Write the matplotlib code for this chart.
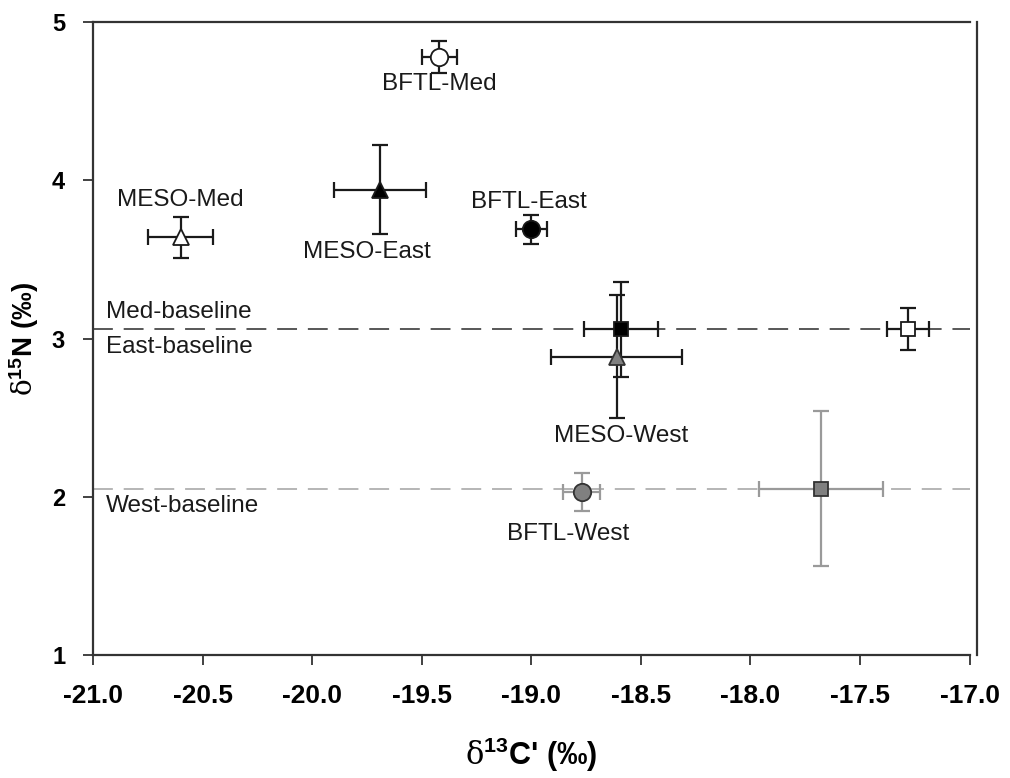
import matplotlib
matplotlib.use("Agg")
import matplotlib.pyplot as plt

plt.rcParams['font.family'] = ['Liberation Sans', 'DejaVu Sans']
plt.rcParams['mathtext.fontset'] = 'custom'
plt.rcParams['mathtext.rm'] = 'DejaVu Serif'
plt.rcParams['mathtext.bf'] = 'Liberation Sans:bold'
plt.rcParams['mathtext.it'] = 'DejaVu Serif:italic'

# ---- data ----
bftl_names = ['BFTL-Med', 'BFTL-East', 'BFTL-West']
bftl_x = [-19.42, -19.00, -18.77]
bftl_y = [4.78, 3.69, 2.03]
bftl_xerr = [0.08, 0.07, 0.085]
bftl_yerr = [0.10, 0.09, 0.12]

meso_names = ['MESO-Med', 'MESO-East', 'MESO-West']
meso_x = [-20.60, -19.69, -18.61]
meso_y = [3.64, 3.94, 2.885]
meso_xerr = [0.15, 0.21, 0.30]
meso_yerr = [0.13, 0.28, 0.39]

base_x = [-17.28, -18.59, -17.68]
base_y = [3.06, 3.06, 2.05]
base_xerr = [0.097, 0.17, 0.283]
base_yerr = [0.134, 0.30, 0.49]

baseline_levels = [3.06, 2.05]
baseline_labels = [('Med-baseline', 'East-baseline'), ('West-baseline',)]

x_ticks = [-21.0, -20.5, -20.0, -19.5, -19.0, -18.5, -18.0, -17.5, -17.0]
y_ticks = [1, 2, 3, 4, 5]

# styles per region (Med, East, West)
fills = ['white', 'black', '#808080']
bftl_ecol = ['#1a1a1a', '#1a1a1a', '#9a9a9a']
meso_ecol = ['#1a1a1a', '#1a1a1a', '#1a1a1a']
base_ecol = ['#1a1a1a', '#1a1a1a', '#9a9a9a']

fig = plt.figure(figsize=(10.10, 7.78), dpi=100)
ax = fig.add_axes([0.092, 0.158, 0.868, 0.8137])

for s in ax.spines.values():
    s.set_color('#333333')
    s.set_linewidth(1.6)
ax.spines['right'].set_position(('outward', 5))

# baselines
ax.axhline(baseline_levels[0], color='#4a4a4a', lw=1.3, ls=(0, (11, 6)), zorder=1)
ax.axhline(baseline_levels[1], color='#b0b0b0', lw=1.3, ls=(0, (11, 6)), zorder=1)

def draw(xs, ys, xe, ye, marker, ecols, ms):
    for i in range(len(xs)):
        ax.errorbar(xs[i], ys[i], xerr=xe[i], yerr=ye[i], fmt='none',
                    ecolor=ecols[i], elinewidth=1.6, capsize=5.5, capthick=1.6, zorder=2)
        ax.plot(xs[i], ys[i], marker=marker, ms=ms, mfc=fills[i],
                mec='#1a1a1a' if i < 2 else '#333333', mew=1.3, ls='none', zorder=3)

draw(base_x, base_y, base_xerr, base_yerr, 's', base_ecol, 10.5)
draw(meso_x, meso_y, meso_xerr, meso_yerr, '^', meso_ecol, 11)
draw(bftl_x, bftl_y, bftl_xerr, bftl_yerr, 'o', bftl_ecol, 12.5)

# point labels
lab_kw = dict(fontsize=17.5, color='#1a1a1a', ha='center', va='center')
ax.text(bftl_x[0], 4.61, bftl_names[0], **lab_kw)
ax.text(bftl_x[1] - 0.01, 3.86, bftl_names[1], **lab_kw)
ax.text(bftl_x[2] - 0.06, 1.765, bftl_names[2], **lab_kw)
ax.text(meso_x[0], 3.875, meso_names[0], **lab_kw)
ax.text(meso_x[1] - 0.06, 3.55, meso_names[1], **lab_kw)
ax.text(meso_x[2] + 0.02, 2.385, meso_names[2], **lab_kw)

bl_kw = dict(fontsize=17.5, color='#1a1a1a', ha='left', va='center')
ax.text(-20.94, 3.165, baseline_labels[0][0], **bl_kw)
ax.text(-20.94, 2.945, baseline_labels[0][1], **bl_kw)
ax.text(-20.94, 1.94, baseline_labels[1][0], **bl_kw)

ax.set_xlim(-21.0, -17.0)
ax.set_ylim(1, 5)
ax.set_xticks(x_ticks)
ax.set_xticklabels([f'{t:.1f}' for t in x_ticks], fontsize=19, fontweight='bold')
ax.set_yticks(y_ticks)
ax.set_yticklabels([str(t) for t in y_ticks], fontsize=17, fontweight='bold')

ax.tick_params(axis='x', direction='out', length=7, width=1.3, color='#333333', pad=14)
ax.tick_params(axis='y', direction='out', length=7, width=1.3, color='#333333', pad=13)

ax.set_xlabel(r"$\mathrm{\delta}^{\mathbf{13}}$C' (‰)", fontsize=22, fontweight='bold', labelpad=20)
ax.set_ylabel(r"$\mathrm{\delta}^{\mathbf{15}}$N (‰)", fontsize=20, fontweight='bold', labelpad=8)

fig.savefig('out.png', dpi=100)
